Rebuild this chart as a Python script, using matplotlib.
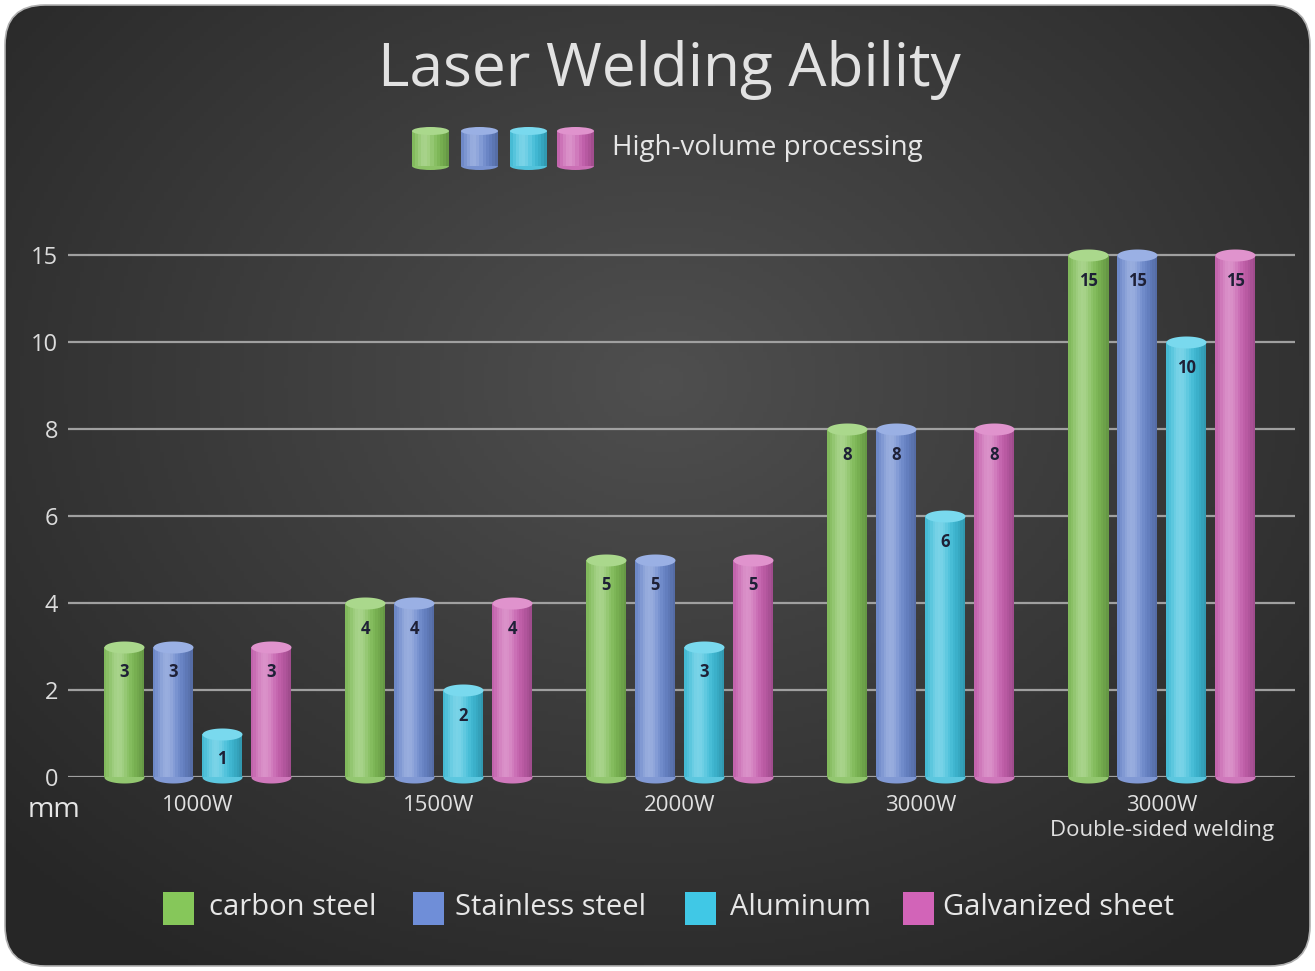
import numpy as np
import matplotlib
matplotlib.use("Agg")
import matplotlib.pyplot as plt
from matplotlib.path import Path
from matplotlib.patches import FancyBboxPatch, Rectangle, Ellipse
from matplotlib.colors import to_rgb

plt.rcParams['font.family'] = ['Open Sans', 'DejaVu Sans']

# data
groups = ["1000W", "1500W", "2000W", "3000W", "3000W\nDouble-sided welding"]
materials = ["carbon steel", "Stainless steel", "Aluminum", "Galvanized sheet"]
carbon = [3, 4, 5, 8, 15]
stainless = [3, 4, 5, 8, 15]
aluminum = [1, 2, 3, 6, 10]
galvanized = [3, 4, 5, 8, 15]
series = [carbon, stainless, aluminum, galvanized]
colors = ["#86c75a", "#6f8ed8", "#40c8e6", "#d264b8"]
yticks = [0, 2, 4, 6, 8, 10, 15]

W, H = 1315, 971
fig = plt.figure(figsize=(W / 100, H / 100), dpi=100, facecolor="white")


def shade(col, t):
    c = np.array(to_rgb(col))
    light = 0.32 * np.exp(-((t - 0.35) / 0.25) ** 2)
    dark = 0.26 * t ** 3 + 0.10 * (1 - t) ** 4
    c = c + (1 - c) * light
    c = c * (1 - dark)
    return np.clip(c, 0, 1)


def lighten(col, a):
    c = np.array(to_rgb(col))
    return c + (1 - c) * a


# background panel with radial gradient
bg = fig.add_axes([0, 0, 1, 1])
bg.set_xlim(0, W)
bg.set_ylim(H, 0)
bg.axis("off")
yy, xx = np.mgrid[0:H:4, 0:W:4]
r = np.sqrt(((xx - 660) / 900) ** 2 + ((yy - 380) / 700) ** 2)
g = np.clip(0.31 - 0.16 * r, 0.15, 0.31)
img = bg.imshow(np.dstack([g, g, g]), extent=(0, W, H, 0), zorder=0, aspect="auto")
panel = FancyBboxPatch((5, 5), W - 10, H - 10, boxstyle="round,pad=0,rounding_size=40",
                       facecolor="none", edgecolor="#b0b0b0", lw=1.2, zorder=1)
bg.add_patch(panel)
img.set_clip_path(panel)


def cyl_icon(ax, x0, y0, w, h, col):
    n = 12
    sw = w / n
    for k in range(n):
        ax.add_patch(Rectangle((x0 + k * sw, y0 + 4), sw + 0.4, h - 8,
                               color=shade(col, (k + 0.5) / n), lw=0, zorder=2))
    ax.add_patch(Ellipse((x0 + w / 2, y0 + h - 4), w, 8, color=shade(col, 0.6), lw=0, zorder=1.9))
    ax.add_patch(Ellipse((x0 + w / 2, y0 + 4), w, 8, color=lighten(col, 0.3), lw=0, zorder=3))


for x0, col in zip([412, 461, 510, 557], colors):
    cyl_icon(bg, x0, 127, 37, 43, col)

fig.text(669 / W, 1 - 70 / H, "Laser Welding Ability", ha="center", va="center",
         fontsize=43.5, color="#e2e2e2")
fig.text(612 / W, 1 - 148 / H, "High-volume processing", ha="left", va="center",
         fontsize=20, color="#e6e6e6")

# legend
for sx, tx, col, name in zip([163, 413, 685, 903], [209, 455, 730, 943], colors, materials):
    bg.add_patch(Rectangle((sx, 892), 31, 33, color=col, lw=0, zorder=2))
    fig.text(tx / W, 1 - 907 / H, name, ha="left", va="center", fontsize=21, color="#e6e6e6")

fig.text(54 / W, 1 - 810 / H, "mm", ha="center", va="center", fontsize=20.5, color="#e6e6e6")

# main axes with piecewise y scale
pos = [0, 1, 2, 3, 4, 5, 6]


def fwd(v):
    return np.interp(v, yticks, pos) + np.where(np.asarray(v) > 15, (np.asarray(v) - 15) / 5, 0)


def inv(p):
    return np.interp(p, pos, yticks) + np.where(np.asarray(p) > 6, (np.asarray(p) - 6) * 5, 0)


ax = fig.add_axes([68 / W, 1 - 777 / H, (1295 - 68) / W, (777 - 242) / H])
ax.set_facecolor("none")
ax.set_yscale("function", functions=(fwd, inv))
ax.set_xlim(-0.537, 4.552)
ax.set_ylim(0, 15.75)
ax.set_yticks(yticks)
ax.set_yticklabels([str(t) for t in yticks])
ax.set_xticks(range(len(groups)))
ax.set_xticklabels(groups, linespacing=1.25)
ax.tick_params(axis="y", length=0, pad=7, labelsize=17, labelcolor="#dcdcdc")
ax.tick_params(axis="x", length=0, pad=13, labelsize=16, labelcolor="#e0e0e0")
for s in ax.spines.values():
    s.set_visible(False)
ax.yaxis.grid(True, color="#a0a0a0", lw=1.6)
ax.set_axisbelow(True)
ax.minorticks_off()

bw = 0.166
step = 0.203
x = np.arange(len(groups))
fig.canvas.draw()
wpx = ax.transData.transform((bw, 1))[0] - ax.transData.transform((0, 1))[0]
ms = wpx * 72 / 100
th = np.linspace(0, 2 * np.pi, 64)
ell = Path(np.column_stack([np.cos(th), 0.3 * np.sin(th)]), closed=True)

n = 16
sw = bw / n
for i, (vals, col) in enumerate(zip(series, colors)):
    xc = x + (i - 1.5) * step
    for k in range(n):
        ax.bar(xc - bw / 2 + (k + 0.5) * sw, vals, width=sw * 1.04, color=shade(col, (k + 0.5) / n),
               lw=0, zorder=3)
    ax.plot(xc, [0] * len(xc), ls="none", marker=ell, ms=ms, mfc=shade(col, 0.55), mew=0,
            zorder=2.9, clip_on=False)
    ax.plot(xc, vals, ls="none", marker=ell, ms=ms, mfc=lighten(col, 0.3), mew=0, zorder=4)
    for xi, v in zip(xc, vals):
        ax.annotate(str(v), (xi, v), xytext=(0, -18.5), textcoords="offset points",
                    ha="center", va="center", fontsize=12, fontweight="bold",
                    color="#1e2036", zorder=5)

fig.savefig("out.png", dpi=100, facecolor="white")
